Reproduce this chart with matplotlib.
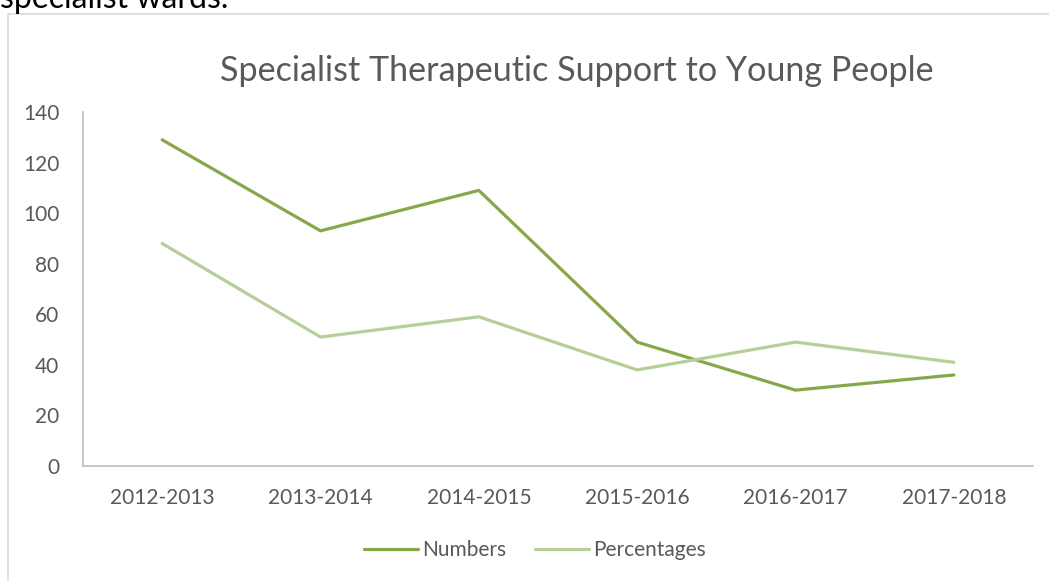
import matplotlib.pyplot as plt
from matplotlib.patches import Rectangle

# Data
years = ['2012-2013', '2013-2014', '2014-2015', '2015-2016', '2016-2017', '2017-2018']
numbers = [129, 93, 109, 49, 30, 36]
percentages = [88, 51, 59, 38, 49, 41]

plt.rcParams['font.family'] = ['Lato', 'DejaVu Sans']

W, H = 1049, 581
fig = plt.figure(figsize=(W / 100, H / 100), dpi=100)
fig.patch.set_facecolor('white')

# chart frame (Excel chart border), cut off on right and bottom
frame = Rectangle((8 / W, -0.05), 1.1, (H - 14) / H + 0.05, transform=fig.transFigure,
                  facecolor='none', edgecolor='#D9D9D9', linewidth=1.2, clip_on=False)
fig.patches.append(frame)

# leftover text from the document above the chart (cut off like in the source)
fig.text(0 / W, 1 + 1 / H, 'specialist wards.', ha='left', va='center',
         fontsize=23, color='black')

# axes placement in pixels
left, right, bottom, top = 83, 1033, 466, 112
ax = fig.add_axes([left / W, 1 - bottom / H, (right - left) / W, (bottom - top) / H])

x = range(len(years))
ax.plot(x, numbers, color='#86A84A', linewidth=2.3, label='Numbers', solid_capstyle='round')
ax.plot(x, percentages, color='#B6CF98', linewidth=2.3, label='Percentages', solid_capstyle='round')

ax.set_xlim(-0.5, len(years) - 0.5)
ax.set_ylim(0, 140)
ax.set_yticks(range(0, 141, 20))
ax.set_xticks(list(x))
ax.set_xticklabels(years)

for s in ['top', 'right']:
    ax.spines[s].set_visible(False)
for s in ['left', 'bottom']:
    ax.spines[s].set_color('#BFBFBF')
    ax.spines[s].set_linewidth(1.2)
ax.tick_params(length=0, labelsize=15, colors='#595959')
ax.tick_params(axis='y', pad=17)
ax.tick_params(axis='x', pad=16)

ax.set_title('Specialist Therapeutic Support to Young People', fontsize=24.6,
             color='#595959', pad=22, x=0.52)

leg = fig.legend(loc='center', bbox_to_anchor=(0.51, 1 - 550 / H), ncol=2, frameon=False,
                 fontsize=15, handlelength=2.6, columnspacing=1.35, handletextpad=0.2)
for t in leg.get_texts():
    t.set_color('#595959')

plt.savefig('out.png', dpi=100, facecolor='white')
